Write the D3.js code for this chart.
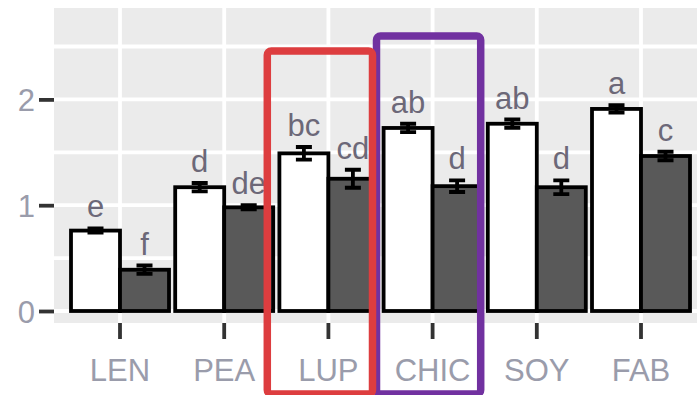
<!DOCTYPE html>
<html>
<head>
<meta charset="utf-8">
<script src="https://cdn.jsdelivr.net/npm/d3@7/dist/d3.min.js"></script>
<style>
  html, body { margin: 0; padding: 0; background: #ffffff; }
  svg { display: block; }
</style>
</head>
<body>
<svg id="chart" width="697" height="395"></svg>
<script>
// Legume species on the x axis
const categories = ["LEN", "PEA", "LUP", "CHIC", "SOY", "FAB"];
// Two treatments per species: open bars and dark bars
const treatments = ["open", "dark"];
const openValues = [0.76, 1.17, 1.49, 1.73, 1.77, 1.91];
const openErrors = [0.02, 0.04, 0.06, 0.04, 0.04, 0.035];
const openLetters = ["e", "d", "bc", "ab", "ab", "a"];
const darkValues = [0.39, 0.98, 1.25, 1.18, 1.17, 1.465];
const darkErrors = [0.04, 0.02, 0.085, 0.055, 0.065, 0.04];
const darkLetters = ["f", "de", "cd", "d", "d", "c"];
const yTicks = [0, 1, 2];
const yGrid = [0, 0.5, 1, 1.5, 2, 2.5];
// Boxes drawn around two species (insets relative to the species' band)
const highlights = [
  { category: "CHIC", colour: "#7131a0", top: 2.6, left: -4, right: -4 },
  { category: "LUP", colour: "#dd3d3f", top: 2.457, left: -9, right: -8 }
];

const panel = { left: 54, right: 697, top: 8, bottom: 323 };
const boxBottom = 394;
const svg = d3.select("#chart");

const x = d3.scaleBand()
  .domain(categories)
  .range([67.9, 693.1])
  .padding(0);
const dodge = d3.scaleBand()
  .domain(treatments)
  .range([-49, 49])
  .padding(0);
const y = d3.scaleLinear().domain([0, 2.5]).range([311, 46.5]);

const rows = [];
categories.forEach((c, i) => {
  rows.push({ cat: c, trt: "open", v: openValues[i], e: openErrors[i], lab: openLetters[i] });
  rows.push({ cat: c, trt: "dark", v: darkValues[i], e: darkErrors[i], lab: darkLetters[i] });
});
const cx = d => x(d.cat) + x.bandwidth() / 2;
const barCentre = d => cx(d) + dodge(d.trt) + dodge.bandwidth() / 2;

// panel background
svg.append("rect")
  .attr("x", panel.left).attr("y", panel.top)
  .attr("width", panel.right - panel.left).attr("height", panel.bottom - panel.top)
  .attr("fill", "#ebebeb");

// grid lines
const grid = svg.append("g").attr("stroke", "#ffffff").attr("stroke-width", 3.8);
grid.selectAll("line.h").data(yGrid).join("line")
  .attr("class", "h")
  .attr("x1", panel.left).attr("x2", panel.right)
  .attr("y1", d => y(d)).attr("y2", d => y(d));
grid.selectAll("line.v").data(categories).join("line")
  .attr("class", "v")
  .attr("x1", d => x(d) + x.bandwidth() / 2).attr("x2", d => x(d) + x.bandwidth() / 2)
  .attr("y1", panel.top).attr("y2", panel.bottom);

// bars
svg.append("g").selectAll("rect").data(rows).join("rect")
  .attr("x", d => cx(d) + dodge(d.trt))
  .attr("width", dodge.bandwidth())
  .attr("y", d => y(d.v))
  .attr("height", d => y(0) - y(d.v))
  .attr("fill", d => d.trt === "open" ? "#ffffff" : "#595959")
  .attr("stroke", "#000000")
  .attr("stroke-width", 3.8);

// error bars
const eb = svg.append("g").attr("stroke", "#000000").attr("stroke-width", 3.8).attr("fill", "none");
const capHalf = 8;
eb.selectAll("path").data(rows).join("path")
  .attr("d", d => {
    const xc = barCentre(d), y1 = y(d.v + d.e), y0 = y(d.v - d.e);
    return `M${xc - capHalf},${y1}H${xc + capHalf}M${xc},${y1}V${y0}M${xc - capHalf},${y0}H${xc + capHalf}`;
  });

// significance letters
svg.append("g").selectAll("text").data(rows).join("text")
  .attr("x", d => barCentre(d))
  .attr("y", d => y(d.v + d.e) - 11)
  .attr("text-anchor", "middle")
  .attr("font-family", "'Liberation Sans', Arial, sans-serif")
  .attr("font-size", 31)
  .attr("fill", "#6c6878")
  .text(d => d.lab);

// y axis
const yAxis = d3.axisLeft(y).tickValues(yTicks).tickSize(15).tickPadding(4).tickFormat(d3.format("d"));
const gy = svg.append("g").attr("transform", `translate(${panel.left},0)`).call(yAxis);
gy.select(".domain").remove();
gy.selectAll(".tick line").attr("stroke", "#333333").attr("stroke-width", 3.8);
gy.selectAll(".tick text")
  .attr("font-family", "'Liberation Sans', Arial, sans-serif")
  .attr("font-size", 31)
  .attr("fill", "#9a9cab")
  .attr("dy", "0.36em");

// x axis
const xAxis = d3.axisBottom(x).tickSize(16).tickPadding(20);
const gx = svg.append("g").attr("transform", `translate(0,${panel.bottom})`).call(xAxis);
gx.select(".domain").remove();
gx.selectAll(".tick line").attr("stroke", "#333333").attr("stroke-width", 3.8);
gx.selectAll(".tick text")
  .attr("font-family", "'Liberation Sans', Arial, sans-serif")
  .attr("font-size", 31)
  .attr("fill", "#9a9cab")
  .attr("dy", "0.71em");

// highlight boxes
svg.append("g").selectAll("rect").data(highlights).join("rect")
  .attr("x", d => x(d.category) + d.left)
  .attr("width", d => x.bandwidth() - d.left + d.right)
  .attr("y", d => y(d.top))
  .attr("height", d => boxBottom - y(d.top))
  .attr("rx", 4)
  .attr("fill", "none")
  .attr("stroke", d => d.colour)
  .attr("stroke-width", 7.5);
</script>
</body>
</html>
